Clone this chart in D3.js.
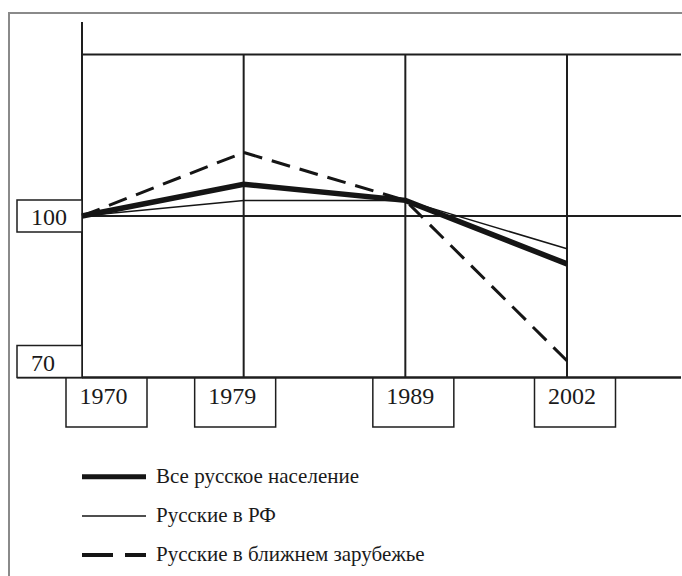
<!DOCTYPE html>
<html>
<head>
<meta charset="utf-8">
<script src="https://cdn.jsdelivr.net/npm/d3@7"></script>
<style>
  body { margin: 0; background: #fff; }
  text { font-family: "Liberation Serif", "DejaVu Serif", serif; fill: #1a1a1a; }
</style>
</head>
<body>
<script>
var years = ["1970", "1979", "1989", "2002"];
var allRussians = [100, 105.9, 102.9, 91.1];
var russiansRF = [100, 102.9, 102.9, 93.9];
var nearAbroad = [100, 111.8, 102.9, 73.1];
var yTicks = [100, 70];
var legendLabels = ["Все русское население", "Русские в РФ", "Русские в ближнем зарубежье"];

var width = 682, height = 576;
var plotLeft = 82, plotRight = 681, plotTop = 54.5, plotBottom = 377.5;

// year label boxes are not centred on their lines in the original
var labelShift = [24.5, -8.5, 8, 8];

var svg = d3.select("body").append("svg")
    .attr("width", width)
    .attr("height", height);

var x = d3.scalePoint()
    .domain(years)
    .range([plotLeft, 567]);

var y = d3.scaleLinear()
    .domain([70, 130])
    .range([plotBottom, plotTop]);

// outer frame (left and top only)
svg.append("path")
    .attr("d", "M9,576V13H682")
    .attr("fill", "none")
    .attr("stroke", "#8a8a8a")
    .attr("stroke-width", 2);

var grid = svg.append("g")
    .attr("stroke", "#1e1e1e")
    .attr("stroke-width", 2)
    .attr("fill", "none");

// top and bottom of plot
grid.append("line").attr("x1", plotLeft).attr("x2", plotRight).attr("y1", plotTop).attr("y2", plotTop);
grid.append("line").attr("x1", 17).attr("x2", plotRight).attr("y1", plotBottom).attr("y2", plotBottom);

// verticals
grid.selectAll(".v")
    .data(years)
  .enter().append("line")
    .attr("class", "v")
    .attr("x1", function(d) { return x(d); })
    .attr("x2", function(d) { return x(d); })
    .attr("y1", function(d, i) { return i == 0 ? 22 : plotTop; })
    .attr("y2", plotBottom);

// horizontal value lines with boxed labels
var ty = svg.selectAll(".ytick")
    .data(yTicks)
  .enter().append("g")
    .attr("class", "ytick");

ty.append("line")
    .attr("x1", plotLeft).attr("x2", plotRight)
    .attr("y1", function(d) { return y(d); })
    .attr("y2", function(d) { return y(d); })
    .attr("stroke", "#1e1e1e")
    .attr("stroke-width", 2);

ty.append("rect")
    .attr("x", 17)
    .attr("y", function(d) { return Math.min(y(d) - 16, plotBottom - 32); })
    .attr("width", plotLeft - 17)
    .attr("height", 32)
    .attr("fill", "#fff")
    .attr("stroke", "#1e1e1e")
    .attr("stroke-width", 1.5);

ty.append("text")
    .attr("x", 31)
    .attr("y", function(d) { return Math.min(y(d) - 16, plotBottom - 32) + 25; })
    .style("font-size", "24px")
    .text(function(d) { return d; });

// year boxes under the plot
var tx = svg.selectAll(".xtick")
    .data(years)
  .enter().append("g")
    .attr("class", "xtick")
    .attr("transform", function(d, i) { return "translate(" + (x(d) + labelShift[i]) + "," + plotBottom + ")"; });

tx.append("path")
    .attr("d", "M-40.5,0V49.5H40.5V0")
    .attr("fill", "none")
    .attr("stroke", "#1e1e1e")
    .attr("stroke-width", 1.5);

tx.append("text")
    .attr("x", -3)
    .attr("y", 26)
    .attr("text-anchor", "middle")
    .style("font-size", "24px")
    .text(function(d) { return d; });

// series
var series = [
  { values: nearAbroad, width: 3, dash: "19,10" },
  { values: russiansRF, width: 1.5, dash: null },
  { values: allRussians, width: 5.5, dash: null }
];

var line = d3.line()
    .x(function(d, i) { return x(years[i]); })
    .y(function(d) { return y(d); });

svg.selectAll(".series")
    .data(series)
  .enter().append("path")
    .attr("class", "series")
    .attr("d", function(d) { return line(d.values); })
    .attr("fill", "none")
    .attr("stroke", "#151515")
    .attr("stroke-width", function(d) { return d.width; })
    .attr("stroke-dasharray", function(d) { return d.dash; })
    .attr("stroke-linejoin", "miter");

// legend
var legendStyle = [
  { width: 5, dash: null },
  { width: 1.5, dash: null },
  { width: 4, dash: "31,12" }
];

var lg = svg.selectAll(".legend")
    .data(legendLabels)
  .enter().append("g")
    .attr("class", "legend")
    .attr("transform", function(d, i) { return "translate(82," + (476.7 + i * 39.2) + ")"; });

lg.append("line")
    .attr("x1", 0).attr("x2", 64)
    .attr("stroke", "#151515")
    .attr("stroke-width", function(d, i) { return legendStyle[i].width; })
    .attr("stroke-dasharray", function(d, i) { return legendStyle[i].dash; });

lg.append("text")
    .attr("x", 74)
    .attr("y", 6)
    .style("font-size", "21px")
    .text(function(d) { return d; });
</script>
</body>
</html>
